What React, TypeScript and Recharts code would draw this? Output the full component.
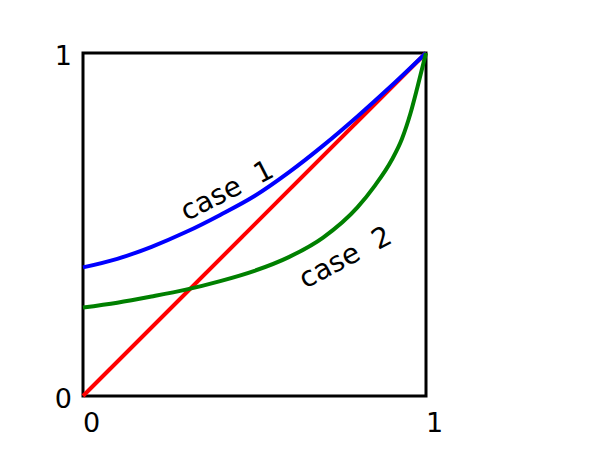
import { LineChart, Line, XAxis, YAxis, ReferenceArea, ReferenceDot } from 'recharts';

const axisTicks = [0, 1];

const diagonal = [
  { x: 0, y: 0 },
  { x: 1, y: 1 },
];

const case1 = [
  { x: 0, y: 0.375 },
  { x: 0.1, y: 0.4 },
  { x: 0.2, y: 0.435 },
  { x: 0.3, y: 0.478 },
  { x: 0.4, y: 0.528 },
  { x: 0.5, y: 0.583 },
  { x: 0.6, y: 0.652 },
  { x: 0.7, y: 0.73 },
  { x: 0.8, y: 0.815 },
  { x: 0.9, y: 0.905 },
  { x: 1, y: 1 },
];

const case2 = [
  { x: 0, y: 0.258 },
  { x: 0.1, y: 0.272 },
  { x: 0.2, y: 0.29 },
  { x: 0.3, y: 0.31 },
  { x: 0.4, y: 0.335 },
  { x: 0.5, y: 0.365 },
  { x: 0.6, y: 0.405 },
  { x: 0.7, y: 0.462 },
  { x: 0.8, y: 0.55 },
  { x: 0.85, y: 0.612 },
  { x: 0.9, y: 0.688 },
  { x: 0.93, y: 0.75 },
  { x: 0.955, y: 0.825 },
  { x: 0.975, y: 0.9 },
  { x: 1, y: 1 },
];

const curveLabels = [
  { text: 'case\u00a0\u00a01', x: 0.419, y: 0.6, tilt: -27 },
  { text: 'case\u00a0\u00a02', x: 0.764, y: 0.405, tilt: -28 },
];

const FONT = 'DejaVu Sans, sans-serif';

function XTick({ x, y, payload }: any) {
  return (
    <text x={x} y={y} dy="0.65em" textAnchor="start" fontFamily={FONT} fontSize={27} fill="#000">
      {payload.value}
    </text>
  );
}

function YTick({ x, y, payload }: any) {
  return (
    <text x={x} y={y} dy="0.45em" textAnchor="end" fontFamily={FONT} fontSize={27} fill="#000">
      {payload.value}
    </text>
  );
}

function CurveLabel({ viewBox, text, tilt }: any) {
  const cx = viewBox.x + (viewBox.width || 0) / 2;
  const cy = viewBox.y + (viewBox.height || 0) / 2;
  return (
    <text
      x={cx}
      y={cy}
      textAnchor="middle"
      dominantBaseline="central"
      transform={`rotate(${tilt} ${cx} ${cy})`}
      fontFamily={FONT}
      fontSize={28}
      fill="#000"
    >
      {text}
    </text>
  );
}

export default function App() {
  return (
    <div style={{ position: 'absolute', left: 0, top: 0, width: 600, height: 452, background: '#fff' }}>
      <LineChart width={600} height={452} margin={{ top: 53, right: 174, bottom: 16, left: 23 }}>
        <XAxis
          type="number"
          dataKey="x"
          domain={[0, 1]}
          ticks={axisTicks}
          axisLine={false}
          tickLine={false}
          tickSize={0}
          tickMargin={18}
          height={40}
          tick={<XTick />}
        />
        <YAxis
          type="number"
          dataKey="y"
          domain={[0, 1]}
          ticks={axisTicks}
          axisLine={false}
          tickLine={false}
          tickSize={0}
          tickMargin={11}
          width={60}
          tick={<YTick />}
        />
        <ReferenceArea x1={0} x2={1} y1={0} y2={1} fill="none" stroke="#000" strokeWidth={3} fillOpacity={0} />
        <Line data={diagonal} dataKey="y" type="linear" stroke="#ff0000" strokeWidth={4} dot={false} isAnimationActive={false} />
        <Line data={case1} dataKey="y" type="monotone" stroke="#0000ff" strokeWidth={4} dot={false} isAnimationActive={false} />
        <Line data={case2} dataKey="y" type="monotone" stroke="#008000" strokeWidth={4} dot={false} isAnimationActive={false} />
        {curveLabels.map((l) => (
          <ReferenceDot
            key={l.text}
            x={l.x}
            y={l.y}
            r={0}
            fill="none"
            stroke="none"
            label={<CurveLabel text={l.text} tilt={l.tilt} />}
          />
        ))}
      </LineChart>
    </div>
  );
}
